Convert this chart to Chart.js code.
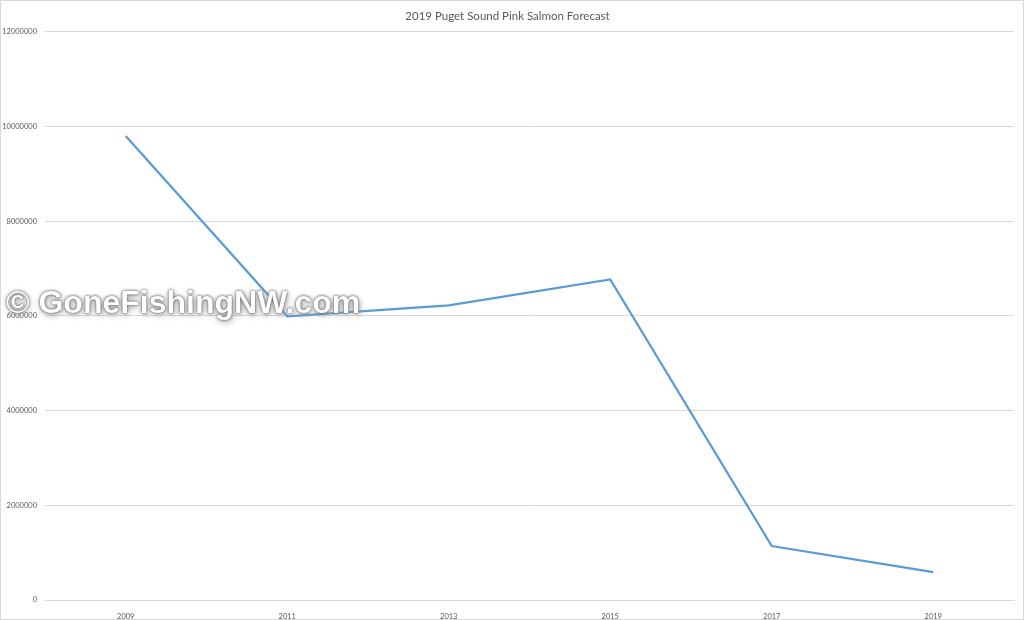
<!DOCTYPE html>
<html>
<head>
<meta charset="utf-8">
<script src="https://cdn.jsdelivr.net/npm/chart.js@4/dist/chart.umd.min.js"></script>
<style>
  html, body { margin: 0; padding: 0; background: #fff; }
  #wrap { position: relative; width: 1024px; height: 620px; box-sizing: border-box; border: 1px solid #d9d9d9; }
  #watermark {
    position: absolute; left: 5px; top: 283px;
    font: bold 32px "Liberation Sans", Arial, sans-serif;
    color: #fff; white-space: nowrap; pointer-events: none;
    text-shadow: 0 0 1px #444, 0 0 3px #666, 1px 2px 6px #999;
  }
</style>
</head>
<body>
<div id="wrap">
  <canvas id="chart" width="1022" height="618"></canvas>
  <div id="watermark">© GoneFishingNW.com</div>
</div>
<script>
// Puget Sound pink salmon returns / forecast (odd years)
const years = ['2009', '2011', '2013', '2015', '2017', '2019'];
const fishCounts = [9800000, 5990000, 6220000, 6770000, 1140000, 590000];
const yTicks = [0, 2000000, 4000000, 6000000, 8000000, 10000000, 12000000];

const gridGray = '#d9d9d9';
const textGray = '#595959';

document.addEventListener('DOMContentLoaded', () => {
    const ctx = document.getElementById('chart').getContext('2d');
    new Chart(ctx, {
        type: 'line',
        data: {
            labels: years,
            datasets: [{
                label: '2019 Puget Sound Pink Salmon Forecast',
                data: fishCounts,
                borderColor: '#5b9bd5',
                borderWidth: 2.25,
                pointRadius: 0,
                tension: 0,
                fill: false
            }]
        },
        options: {
            responsive: false,
            animation: false,
            layout: { padding: { left: 0, right: 9, top: 0, bottom: 0 } },
            plugins: {
                legend: { display: false },
                tooltip: { enabled: false },
                title: {
                    display: true,
                    text: '2019 Puget Sound Pink Salmon Forecast',
                    color: textGray,
                    font: { family: 'Lato', size: 11.5, weight: 'normal' },
                    padding: { top: 8, bottom: 9 }
                }
            },
            scales: {
                x: {
                    offset: true,
                    grid: { display: false },
                    border: { color: gridGray, width: 1 },
                    ticks: {
                        color: textGray,
                        padding: 4,
                        maxRotation: 0,
                        font: { family: 'Lato', size: 7.5 }
                    },
                    afterFit: (scale) => { scale.height = 19; }
                },
                y: {
                    min: 0,
                    max: 12000000,
                    afterBuildTicks: (scale) => {
                        scale.ticks = yTicks.map(v => ({ value: v }));
                    },
                    grid: { color: gridGray, drawTicks: false },
                    border: { display: false },
                    ticks: {
                        color: textGray,
                        padding: 8,
                        font: { family: 'Lato', size: 7.5 },
                        callback: (v) => String(v)
                    },
                    afterFit: (scale) => { scale.width = 44; }
                }
            }
        }
    });
});
</script>
</body>
</html>
